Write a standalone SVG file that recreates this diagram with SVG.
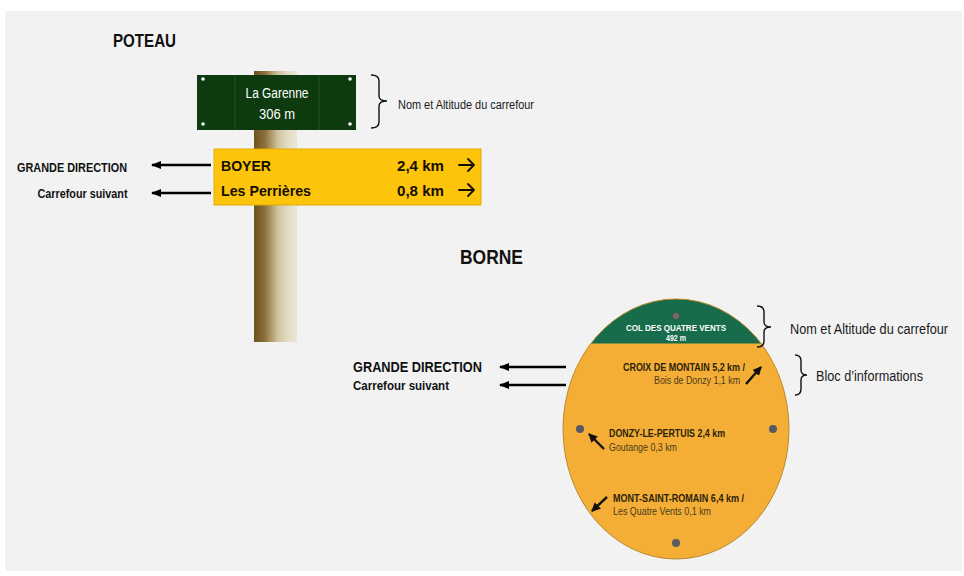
<svg xmlns="http://www.w3.org/2000/svg" width="964" height="576" viewBox="0 0 964 576">
<defs>
<style>
.t{font-family:"Liberation Sans",Arial,sans-serif;}
.b{font-weight:bold;}
.blk{fill:#111;}
.ann{fill:#1a1a1a;}
.brace{fill:none;stroke:#111;stroke-width:1.4;}
.arr{stroke:#000;stroke-width:2.6;fill:none;marker-end:url(#ah);}
.arr2{stroke:#111;stroke-width:2.4;fill:none;marker-end:url(#ah2);}
.info{fill:#2a1f0c;}
.sub{fill:#4a3a1c;}
.bolt{fill:#555b60;}
.ydir{stroke:#140f00;stroke-width:1.8;fill:none;stroke-linecap:round;stroke-linejoin:round;}
</style>
<linearGradient id="pole" x1="0" y1="0" x2="1" y2="0">
<stop offset="0" stop-color="#6f511f"/>
<stop offset="0.25" stop-color="#8d6f38"/>
<stop offset="0.55" stop-color="#cfc29f"/>
<stop offset="0.8" stop-color="#e4ddc7"/>
<stop offset="1" stop-color="#ebe6d6"/>
</linearGradient>
<marker id="ah" markerUnits="userSpaceOnUse" markerWidth="10" markerHeight="8" refX="9" refY="4" orient="auto">
<path d="M0,0 L10,4 L0,8 z" fill="#000"/>
</marker>
<marker id="ah2" markerUnits="userSpaceOnUse" markerWidth="9" markerHeight="9" refX="8" refY="4.5" orient="auto">
<path d="M0,0 L9,4.5 L0,9 z" fill="#111"/>
</marker>
<clipPath id="ovalClip">
<ellipse cx="676" cy="429" rx="113" ry="130"/>
</clipPath>
</defs>

<rect x="5" y="11" width="957" height="560" fill="#f2f2f2"/>

<!-- POTEAU -->
<g id="titre-poteau">
<text class="t b blk" x="113" y="47" font-size="18" textLength="63" lengthAdjust="spacingAndGlyphs">POTEAU</text>
</g>

<g id="poteau">
<rect x="254" y="71" width="43" height="271" fill="url(#pole)"/>
</g>

<g id="panneau-nom">
<rect x="197" y="75" width="159" height="55" fill="#0d3b0f"/>
<line x1="235" y1="75" x2="235" y2="130" stroke="#24502a" stroke-width="1"/>
<line x1="319" y1="75" x2="319" y2="130" stroke="#24502a" stroke-width="1"/>
<circle cx="203" cy="79" r="1.8" fill="#fff"/>
<circle cx="350" cy="79" r="1.8" fill="#fff"/>
<circle cx="203" cy="124" r="1.8" fill="#fff"/>
<circle cx="350" cy="124" r="1.8" fill="#fff"/>
<text class="t" x="277" y="98" font-size="14" fill="#fff" text-anchor="middle" textLength="63" lengthAdjust="spacingAndGlyphs">La Garenne</text>
<text class="t" x="277" y="119" font-size="14" fill="#fff" text-anchor="middle" textLength="36" lengthAdjust="spacingAndGlyphs">306 m</text>
</g>

<g id="annotation-poteau-nom">
<path class="brace" d="M371,75 Q379,75 379,81 L379,96 Q379,101 387,101 Q379,101 379,106 L379,122 Q379,128 371,128"/>
<text class="t ann" x="398" y="109" font-size="12.5" textLength="136" lengthAdjust="spacingAndGlyphs">Nom et Altitude du carrefour</text>
</g>

<g id="panneau-directions">
<rect x="214" y="149" width="267" height="56" fill="#fcc40b" stroke="#e3ab00" stroke-width="1"/>
<text class="t b" x="221" y="171" font-size="15" fill="#140f00" textLength="50" lengthAdjust="spacingAndGlyphs">BOYER</text>
<text class="t b" x="397" y="171" font-size="15" fill="#140f00" textLength="47" lengthAdjust="spacingAndGlyphs">2,4 km</text>
<path class="ydir" d="M459,165 L474,165 M468,159 L474,165 L468,171"/>
<text class="t b" x="221" y="196" font-size="15" fill="#140f00" textLength="90" lengthAdjust="spacingAndGlyphs">Les Perrières</text>
<text class="t b" x="397" y="196" font-size="15" fill="#140f00" textLength="47" lengthAdjust="spacingAndGlyphs">0,8 km</text>
<path class="ydir" d="M459,190 L474,190 M468,184 L474,190 L468,196"/>
</g>

<g id="labels-poteau">
<text class="t b blk" x="17" y="172" font-size="13.5" textLength="110" lengthAdjust="spacingAndGlyphs">GRANDE DIRECTION</text>
<text class="t b blk" x="37.5" y="198" font-size="12.5" textLength="90" lengthAdjust="spacingAndGlyphs">Carrefour suivant</text>
</g>

<!-- BORNE -->
<g id="titre-borne">
<text class="t b blk" x="460" y="264" font-size="20" textLength="63" lengthAdjust="spacingAndGlyphs">BORNE</text>
</g>

<g id="borne">
<ellipse cx="676" cy="429" rx="113" ry="130" fill="#f5ae35"/>
<rect x="560" y="295" width="232" height="48.5" fill="#176c4c" clip-path="url(#ovalClip)"/>
<ellipse cx="676" cy="429" rx="113" ry="130" fill="none" stroke="#b98a2e" stroke-width="1"/>
<circle cx="676" cy="316" r="3" fill="#6c6f6c" stroke="#9a4b4b" stroke-width="0.8"/>
<text class="t b" x="676" y="331" font-size="9" fill="#fff" text-anchor="middle" textLength="100" lengthAdjust="spacingAndGlyphs">COL DES QUATRE VENTS</text>
<text class="t b" x="676" y="341" font-size="9" fill="#fff" text-anchor="middle" textLength="20" lengthAdjust="spacingAndGlyphs">492 m</text>
<circle class="bolt" cx="580" cy="429" r="4"/>
<circle class="bolt" cx="773" cy="429" r="4"/>
<circle class="bolt" cx="676" cy="543" r="4"/>

<text class="t b info" x="623" y="370.5" font-size="10" textLength="122" lengthAdjust="spacingAndGlyphs">CROIX DE MONTAIN 5,2 km /</text>
<text class="t sub" x="654" y="384" font-size="10" textLength="86" lengthAdjust="spacingAndGlyphs">Bois de Donzy 1,1 km</text>

<text class="t b info" x="609" y="437" font-size="10" textLength="116" lengthAdjust="spacingAndGlyphs">DONZY-LE-PERTUIS 2,4 km</text>
<text class="t sub" x="609" y="450.5" font-size="10" textLength="68" lengthAdjust="spacingAndGlyphs">Goutange 0,3 km</text>

<text class="t b info" x="613" y="501.5" font-size="10" textLength="131" lengthAdjust="spacingAndGlyphs">MONT-SAINT-ROMAIN 6,4 km /</text>
<text class="t sub" x="613" y="515" font-size="10" textLength="98" lengthAdjust="spacingAndGlyphs">Les Quatre Vents 0,1 km</text>

<path class="arr2" d="M746,384 L761,367"/>
<path class="arr2" d="M604,449 L589,434"/>
<path class="arr2" d="M607,497 L592,511"/>
</g>

<g id="labels-borne">
<text class="t b blk" x="353" y="372" font-size="14" textLength="129" lengthAdjust="spacingAndGlyphs">GRANDE DIRECTION</text>
<text class="t b blk" x="353" y="390" font-size="12.5" textLength="96" lengthAdjust="spacingAndGlyphs">Carrefour suivant</text>
</g>

<g id="annotation-borne-nom">
<path class="brace" d="M757,306 Q764,306 764,312 L764,322 Q764,327 771,327 Q764,327 764,332 L764,341 Q764,347 757,347"/>
<text class="t ann" x="790" y="334" font-size="14" textLength="158" lengthAdjust="spacingAndGlyphs">Nom et Altitude du carrefour</text>
</g>

<g id="annotation-borne-bloc">
<path class="brace" d="M795,355 Q801,355 801,361 L801,370 Q801,375 807,375 Q801,375 801,380 L801,389 Q801,395 795,395"/>
<text class="t ann" x="816" y="381" font-size="14" textLength="107" lengthAdjust="spacingAndGlyphs">Bloc d’informations</text>
</g>

<g id="connecteurs">
<path class="arr" d="M211,165 L152,165"/>
<path class="arr" d="M211,193 L152,193"/>
<path class="arr" d="M566,367 L500,367"/>
<path class="arr" d="M566,385 L500,385"/>
</g>
</svg>
